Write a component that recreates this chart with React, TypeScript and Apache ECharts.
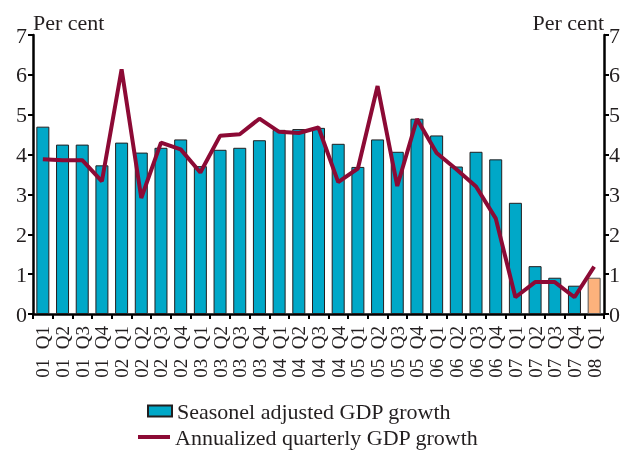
import React, { useEffect, useRef } from "react";
import * as echarts from "echarts";

const categories = [
  "01 Q1", "01 Q2", "01 Q3", "01 Q4",
  "02 Q1", "02 Q2", "02 Q3", "02 Q4",
  "03 Q1", "03 Q2", "03 Q3", "03 Q4",
  "04 Q1", "04 Q2", "04 Q3", "04 Q4",
  "05 Q1", "05 Q2", "05 Q3", "05 Q4",
  "06 Q1", "06 Q2", "06 Q3", "06 Q4",
  "07 Q1", "07 Q2", "07 Q3", "07 Q4",
  "08 Q1",
];

const seasonalGrowth = [
  4.7, 4.25, 4.25, 3.73,
  4.3, 4.05, 4.17, 4.38,
  3.71, 4.12, 4.17, 4.36,
  4.62, 4.64, 4.67, 4.27,
  3.69, 4.38, 4.07, 4.9,
  4.48, 3.7, 4.07, 3.88,
  2.79, 1.2, 0.91, 0.71,
  0.91,
];

const annualizedGrowth = [
  3.88, 3.86, 3.86, 3.33,
  6.14, 2.91, 4.3, 4.13,
  3.55, 4.47, 4.51, 4.9,
  4.57, 4.54, 4.68, 3.31,
  3.65, 5.72, 3.21, 4.89,
  4.04, 3.63, 3.2, 2.4,
  0.42, 0.8, 0.8, 0.42,
  1.19,
];

const yTicks = { min: 0, max: 7, interval: 1 };
const barName = "Seasonel adjusted GDP growth";
const lineName = "Annualized quarterly GDP growth";
const axisTitle = "Per cent";

const FONT = "'Liberation Serif', 'DejaVu Serif', serif";
const TEXT = "#231f20";
const BLUE = "#00a8c8";
const ORANGE = "#fdb27c";
const RED = "#8c0a35";

export default function App() {
  const ref = useRef<HTMLDivElement>(null);

  useEffect(() => {
    if (!ref.current) return;
    const chart = echarts.init(ref.current, null, { renderer: "svg" });
    const lastIdx = seasonalGrowth.length - 1;
    const yAxisBase = (position: "left" | "right") => ({
      type: "value",
      position,
      min: yTicks.min,
      max: yTicks.max,
      interval: yTicks.interval,
      name: axisTitle,
      nameLocation: "end",
      nameGap: 2,
      nameMoveOverlap: false,
      nameTextStyle: {
        fontFamily: FONT,
        fontSize: 22,
        color: TEXT,
        align: position === "left" ? "left" : "right",
        verticalAlign: "bottom",
      },
      splitLine: { show: false },
      axisLine: { show: true, lineStyle: { color: "#000", width: 2.5 } },
      axisTick: { show: true, inside: false, length: 5, lineStyle: { color: "#000", width: 2 } },
      axisLabel: {
        fontFamily: FONT,
        fontSize: 22,
        color: TEXT,
        margin: position === "left" ? 6 : 5,
      },
    });

    chart.setOption({
      animation: false,
      textStyle: { fontFamily: FONT },
      grid: { left: 33, right: 21, top: 35, bottom: 136, containLabel: false },
      legend: [
        {
          data: [{ name: barName, icon: "rect" }],
          left: 142,
          top: 395,
          itemWidth: 24,
          itemHeight: 11,
          textStyle: { fontFamily: FONT, fontSize: 22, color: TEXT },
          selectedMode: false,
        },
        {
          data: [{ name: lineName, icon: "rect" }],
          left: 133,
          top: 421,
          itemWidth: 32,
          itemHeight: 4,
          itemStyle: { color: RED, borderWidth: 0 },
          textStyle: { fontFamily: FONT, fontSize: 22, color: TEXT },
          selectedMode: false,
        },
      ],
      xAxis: {
        type: "category",
        data: categories,
        boundaryGap: true,
        axisLine: { show: true, lineStyle: { color: "#000", width: 2.5 } },
        axisTick: { show: true, alignWithLabel: false, interval: 0, length: 5, lineStyle: { color: "#000", width: 2 } },
        axisLabel: {
          interval: 0,
          rotate: 90,
          fontFamily: FONT,
          fontSize: 19,
          color: TEXT,
          margin: 12,
          formatter: (v: string) => v.replace(" ", "  "),
        },
      },
      yAxis: [yAxisBase("left"), yAxisBase("right")],
      series: [
        {
          name: barName,
          type: "bar",
          yAxisIndex: 0,
          barWidth: 13,
          itemStyle: { color: BLUE, borderColor: "#231f20", borderWidth: 1 },
          data: seasonalGrowth.map((v, i) =>
            i === lastIdx ? { value: v, itemStyle: { color: ORANGE, borderColor: "#555" } } : v
          ),
        },
        {
          name: lineName,
          type: "line",
          yAxisIndex: 0,
          symbol: "none",
          showSymbol: false,
          z: 5,
          lineStyle: { color: RED, width: 4 },
          itemStyle: { color: RED },
          data: annualizedGrowth,
        },
      ],
    });
    return () => chart.dispose();
  }, []);

  return (
    <div
      ref={ref}
      style={{ position: "fixed", left: 0, top: 0, width: 625, height: 450 }}
    />
  );
}
